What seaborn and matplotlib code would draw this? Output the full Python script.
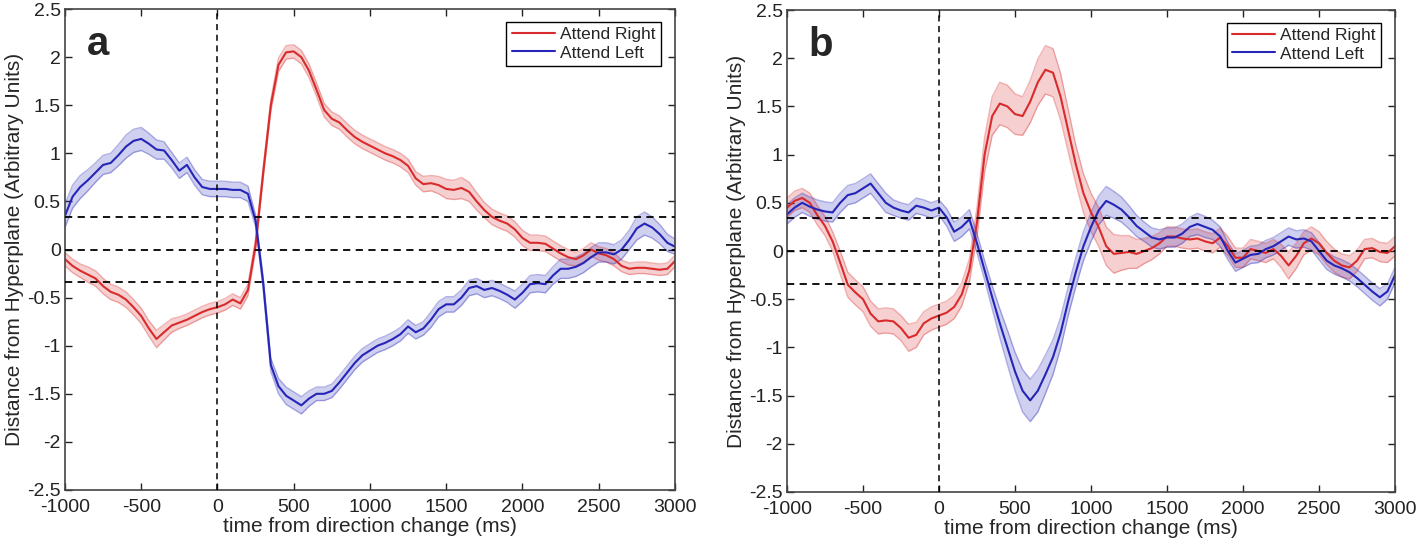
import numpy as np
import pandas as pd
import matplotlib
matplotlib.use("Agg")
import matplotlib.pyplot as plt
import seaborn as sns


# time axis (ms), one sample every 50 ms
time_ms = list(range(-1000, 3001, 50))

# panel a : mean distance and shaded error
a_right = [-0.10, -0.17, -0.22, -0.26, -0.30, -0.38, -0.44, -0.47, -0.52, -0.60,
           -0.69, -0.82, -0.93, -0.86, -0.79, -0.76, -0.73, -0.69, -0.65, -0.62,
           -0.60, -0.57, -0.52, -0.56, -0.42, 0.05, 0.80, 1.50, 1.92, 2.05,
           2.06, 2.00, 1.86, 1.66, 1.45, 1.36, 1.32, 1.24, 1.17, 1.12,
           1.08, 1.04, 1.00, 0.97, 0.93, 0.87, 0.74, 0.68, 0.69, 0.67,
           0.63, 0.62, 0.64, 0.60, 0.50, 0.41, 0.34, 0.30, 0.27, 0.21,
           0.12, 0.07, 0.07, 0.06, 0.01, -0.04, -0.08, -0.10, -0.06, 0.00,
           -0.04, -0.06, -0.10, -0.17, -0.20, -0.19, -0.19, -0.20, -0.21, -0.20,
           -0.12]
a_left = [0.35, 0.55, 0.65, 0.72, 0.80, 0.88, 0.90, 0.98, 1.07, 1.13,
          1.15, 1.10, 1.04, 1.03, 0.93, 0.82, 0.88, 0.75, 0.65, 0.63,
          0.63, 0.63, 0.62, 0.62, 0.58, 0.30, -0.35, -1.20, -1.42, -1.52,
          -1.57, -1.62, -1.55, -1.50, -1.50, -1.47, -1.38, -1.28, -1.18, -1.10,
          -1.05, -1.00, -0.97, -0.93, -0.88, -0.80, -0.86, -0.82, -0.73, -0.62,
          -0.57, -0.57, -0.50, -0.40, -0.38, -0.42, -0.40, -0.43, -0.47, -0.52,
          -0.45, -0.36, -0.35, -0.36, -0.27, -0.20, -0.20, -0.18, -0.14, -0.08,
          -0.03, -0.03, -0.05, 0.00, 0.10, 0.22, 0.27, 0.23, 0.16, 0.07,
          0.03]
a_right_err = [0.07, 0.07, 0.07, 0.08, 0.08, 0.08, 0.08, 0.08, 0.08, 0.08,
               0.08, 0.08, 0.09, 0.08, 0.07, 0.06, 0.06, 0.06, 0.06, 0.06,
               0.06, 0.06, 0.06, 0.06, 0.06, 0.06, 0.06, 0.06, 0.07, 0.07,
               0.07, 0.07, 0.07, 0.07, 0.07, 0.07, 0.07, 0.07, 0.07, 0.07,
               0.07, 0.07, 0.07, 0.07, 0.07, 0.07, 0.07, 0.08, 0.08, 0.09,
               0.10, 0.10, 0.11, 0.10, 0.09, 0.08, 0.08, 0.08, 0.08, 0.08,
               0.08, 0.08, 0.08, 0.08, 0.08, 0.08, 0.08, 0.07, 0.07, 0.07,
               0.07, 0.07, 0.07, 0.06, 0.06, 0.06, 0.06, 0.06, 0.06, 0.06,
               0.06]
a_left_err = [0.12, 0.12, 0.12, 0.11, 0.10, 0.10, 0.10, 0.11, 0.12, 0.12,
              0.12, 0.11, 0.10, 0.09, 0.08, 0.08, 0.08, 0.08, 0.08, 0.08,
              0.08, 0.08, 0.08, 0.08, 0.08, 0.06, 0.06, 0.07, 0.08, 0.09,
              0.09, 0.09, 0.08, 0.07, 0.07, 0.07, 0.07, 0.07, 0.07, 0.07,
              0.07, 0.07, 0.07, 0.07, 0.07, 0.07, 0.07, 0.07, 0.08, 0.08,
              0.08, 0.08, 0.08, 0.08, 0.08, 0.08, 0.08, 0.08, 0.08, 0.09,
              0.09, 0.09, 0.09, 0.09, 0.09, 0.10, 0.10, 0.10, 0.10, 0.10,
              0.10, 0.10, 0.10, 0.10, 0.10, 0.12, 0.12, 0.11, 0.10, 0.09,
              0.08]

# panel b
b_right = [0.45, 0.52, 0.55, 0.50, 0.37, 0.26, 0.10, -0.12, -0.35, -0.43,
           -0.50, -0.65, -0.73, -0.72, -0.73, -0.80, -0.90, -0.87, -0.75, -0.70,
           -0.67, -0.64, -0.58, -0.45, -0.20, 0.30, 1.00, 1.40, 1.53, 1.50,
           1.42, 1.40, 1.55, 1.75, 1.88, 1.85, 1.60, 1.25, 0.90, 0.60,
           0.40, 0.25, 0.05, -0.03, -0.02, -0.01, -0.03, 0.00, 0.03, 0.08,
           0.15, 0.15, 0.13, 0.12, 0.13, 0.10, 0.08, 0.14, 0.05, -0.07,
           -0.07, 0.02, 0.00, -0.02, 0.02, -0.05, -0.15, -0.05, 0.08, 0.13,
           0.08, -0.02, -0.10, -0.15, -0.17, -0.10, 0.02, 0.03, -0.01, -0.02,
           0.05]
b_left = [0.38, 0.45, 0.50, 0.46, 0.43, 0.41, 0.40, 0.50, 0.58, 0.60,
          0.65, 0.70, 0.60, 0.50, 0.45, 0.42, 0.40, 0.47, 0.45, 0.42,
          0.45, 0.35, 0.20, 0.25, 0.33, 0.08, -0.20, -0.48, -0.75, -1.00,
          -1.25, -1.45, -1.55, -1.45, -1.28, -1.10, -0.85, -0.52, -0.22, 0.05,
          0.25, 0.42, 0.52, 0.48, 0.43, 0.35, 0.26, 0.20, 0.14, 0.12,
          0.14, 0.14, 0.18, 0.25, 0.28, 0.25, 0.22, 0.15, 0.00, -0.12,
          -0.08, -0.04, -0.03, 0.02, 0.05, 0.10, 0.15, 0.12, 0.13, 0.10,
          0.00, -0.10, -0.15, -0.18, -0.22, -0.28, -0.35, -0.42, -0.48, -0.42,
          -0.25]
b_right_err = [0.10, 0.10, 0.10, 0.10, 0.10, 0.10, 0.10, 0.12, 0.13, 0.13,
               0.13, 0.13, 0.13, 0.13, 0.13, 0.13, 0.14, 0.13, 0.12, 0.12,
               0.12, 0.12, 0.12, 0.12, 0.12, 0.15, 0.18, 0.20, 0.22, 0.22,
               0.21, 0.20, 0.22, 0.24, 0.25, 0.25, 0.24, 0.22, 0.20, 0.20,
               0.20, 0.20, 0.20, 0.20, 0.18, 0.17, 0.15, 0.13, 0.12, 0.11,
               0.10, 0.10, 0.10, 0.10, 0.10, 0.10, 0.10, 0.10, 0.10, 0.10,
               0.10, 0.10, 0.10, 0.10, 0.10, 0.12, 0.14, 0.13, 0.12, 0.12,
               0.12, 0.12, 0.12, 0.12, 0.12, 0.11, 0.10, 0.10, 0.10, 0.10,
               0.10]
b_left_err = [0.10, 0.10, 0.10, 0.10, 0.10, 0.10, 0.10, 0.10, 0.10, 0.10,
              0.10, 0.10, 0.10, 0.10, 0.08, 0.08, 0.08, 0.08, 0.08, 0.08,
              0.08, 0.09, 0.10, 0.10, 0.10, 0.10, 0.10, 0.12, 0.15, 0.18,
              0.20, 0.22, 0.22, 0.22, 0.20, 0.18, 0.16, 0.15, 0.15, 0.15,
              0.15, 0.15, 0.15, 0.14, 0.13, 0.12, 0.11, 0.10, 0.10, 0.10,
              0.10, 0.10, 0.10, 0.10, 0.11, 0.11, 0.10, 0.10, 0.09, 0.09,
              0.09, 0.09, 0.09, 0.09, 0.09, 0.09, 0.09, 0.09, 0.09, 0.09,
              0.09, 0.09, 0.09, 0.09, 0.09, 0.09, 0.09, 0.09, 0.09, 0.08,
              0.08]

conditions = ["Attend Right", "Attend Left"]
panel_labels = ["a", "b"]
x_ticks = [-1000, -500, 0, 500, 1000, 1500, 2000, 2500, 3000]
y_ticks = [-2.5, -2, -1.5, -1, -0.5, 0, 0.5, 1, 1.5, 2, 2.5]
y_tick_labels = ["-2.5", "-2", "-1.5", "-1", "-0.5", "0", "0.5", "1", "1.5", "2", "2.5"]
chance_band = 0.34

sns.set_style("ticks")
plt.rcParams['font.family'] = ['Liberation Sans', 'DejaVu Sans']

colors = {"Attend Right": "#d92b2b", "Attend Left": "#2525b8"}

fig = plt.figure(figsize=(14.18, 5.44), dpi=100)
ax_a = fig.add_axes([0.0458, 0.0993, 0.4302, 0.884])
ax_b = fig.add_axes([0.555, 0.0956, 0.4288, 0.886])

panels = [
    (ax_a, a_right, a_left, a_right_err, a_left_err),
    (ax_b, b_right, b_left, b_right_err, b_left_err),
]

for (ax, right, left, right_err, left_err), label in zip(panels, panel_labels):
    df = pd.DataFrame({
        "time": time_ms * 2,
        "distance": right + left,
        "condition": [conditions[0]] * len(time_ms) + [conditions[1]] * len(time_ms),
    })

    # shaded error bands
    for cond, mean, err in [(conditions[0], right, right_err), (conditions[1], left, left_err)]:
        lo = np.array(mean) - np.array(err)
        hi = np.array(mean) + np.array(err)
        ax.fill_between(time_ms, lo, hi, color=colors[cond], alpha=0.22, linewidth=0)
        ax.plot(time_ms, lo, color=colors[cond], alpha=0.35, linewidth=1)
        ax.plot(time_ms, hi, color=colors[cond], alpha=0.35, linewidth=1)

    sns.lineplot(data=df, x="time", y="distance", hue="condition", palette=colors,
                 hue_order=conditions, linewidth=1.5, ax=ax, errorbar=None)

    # reference lines
    for yv in [chance_band, 0, -chance_band]:
        ax.axhline(yv, color="black", linestyle=(0, (4, 3)), linewidth=1.3, zorder=5)
    ax.axvline(0, color="black", linestyle=(0, (4, 3)), linewidth=1.1, zorder=5)

    ax.set_xlim(-1000, 3000)
    ax.set_ylim(-2.5, 2.5)
    ax.set_xticks(x_ticks)
    ax.set_xticklabels([str(t) for t in x_ticks])
    ax.set_yticks(y_ticks)
    ax.set_yticklabels(y_tick_labels)
    ax.tick_params(direction="in", top=True, right=True, length=5, width=1,
                   labelsize=14, colors="#222222", pad=3)
    ax.tick_params(axis="x", pad=6.5)
    for sp in ax.spines.values():
        sp.set_visible(True)
        sp.set_color("#444444")
        sp.set_linewidth(1.2)

    ax.set_xlabel("time from direction change (ms)", fontsize=15, labelpad=1)
    ax.set_ylabel("Distance from Hyperplane (Arbitrary Units)", fontsize=15, labelpad=2)

    ax.text(0.036, 0.967, label, transform=ax.transAxes, fontsize=29,
            fontweight="bold", va="top", ha="left")

    leg = ax.legend(loc="upper right", bbox_to_anchor=(0.977, 0.974), borderaxespad=0,
                    fontsize=12.5, frameon=True, fancybox=False, edgecolor="black",
                    handlelength=2.5, handletextpad=0.3, borderpad=0.3,
                    labelspacing=0.2, title=None)
    leg.get_frame().set_linewidth(1.0)
    leg.get_frame().set_alpha(1)

fig.savefig("out.png", dpi=100)
